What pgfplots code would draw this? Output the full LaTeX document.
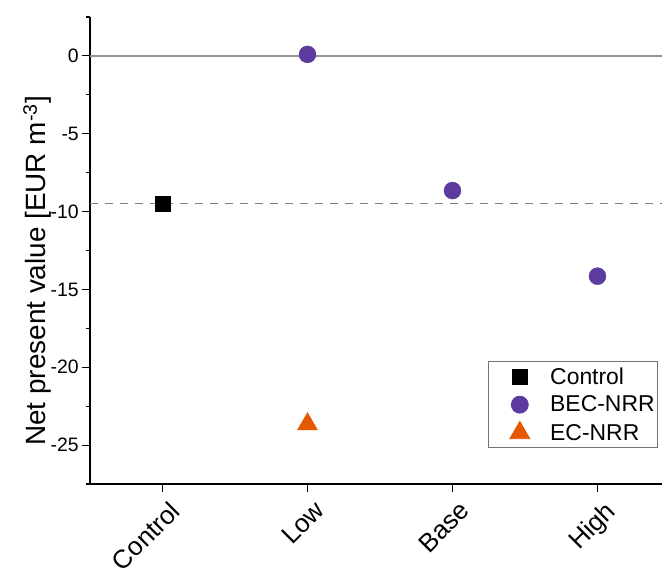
\documentclass[border=0pt]{standalone}
\usepackage{pgfplots}
\pgfplotsset{compat=1.18}
\usepackage{fontspec}
\setmainfont{Liberation Sans}
\definecolor{becpurple}{RGB}{92,58,158}
\definecolor{ecorange}{RGB}{230,88,0}
\begin{document}
\begin{tikzpicture}
\useasboundingbox (-90bp,-87bp) rectangle (572bp,484bp);
\begin{axis}[
  at={(0,0)}, anchor=south west,
  scale only axis, width=572bp, height=467bp,
  xmin=-0.5, xmax=3.445, ymin=-27.5, ymax=2.5,
  axis x line=bottom, axis y line=left,
  axis line style={-, black, line width=1.1pt},
  tick align=outside,
  tick style={black, line width=1.1pt},
  major tick length=8bp, minor tick length=3.5bp,
  xtick={0,1,2,3},
  xticklabels={Control,Low,Base,High},
  ytick={-25,-20,-15,-10,-5,0},
  yticklabels={-25,-20,-15,-10,-5,0},
  minor ytick={-27.5,-22.5,-17.5,-12.5,-7.5,-2.5,2.5},
  xtick pos=bottom, ytick pos=left,
  yticklabel style={font=\fontsize{19.5}{23}\selectfont, inner xsep=3bp},
  xticklabel style={font=\fontsize{26}{30}\selectfont, xshift=6bp, yshift=-6bp, rotate=45, anchor=north east, inner sep=1bp},
  ylabel={Net present value [EUR m\textsuperscript{-3}]},
  every axis y label/.style={at={(axis description cs:-0.077,0.456)}, rotate=90, anchor=base,
    font=\fontsize{28}{32}\selectfont},
  legend style={at={(0.993,0.077)}, anchor=south east, draw=black!55, line width=0.8pt,
    font=\fontsize{23}{26}\selectfont, row sep=6bp, inner xsep=1bp, inner ysep=4bp},
  legend image code/.code={\path (0bp,0bp) (58bp,0bp); \draw[#1] plot coordinates {(30bp,0bp)};},
  legend cell align=left,
  clip=false,
]
\addplot[forget plot, color=black!42, line width=1.3pt] coordinates {(-0.5,0) (3.445,0)};
\addplot[forget plot, color=black!50, line width=1pt, dash pattern=on 8bp off 7bp] coordinates {(-0.5,-9.5) (3.445,-9.5)};
\addplot[only marks, mark=square*, mark size=7.5bp, color=black] coordinates {(0,-9.5)};
\addplot[only marks, mark=*, mark size=8.5bp, color=becpurple] coordinates {(1,0.1) (2,-8.65) (3,-14.15)};
\addplot[only marks, mark=triangle*, mark size=11.5bp, color=ecorange] coordinates {(1,-23.65)};
\legend{Control,BEC-NRR,EC-NRR}
\end{axis}
\end{tikzpicture}
\end{document}
